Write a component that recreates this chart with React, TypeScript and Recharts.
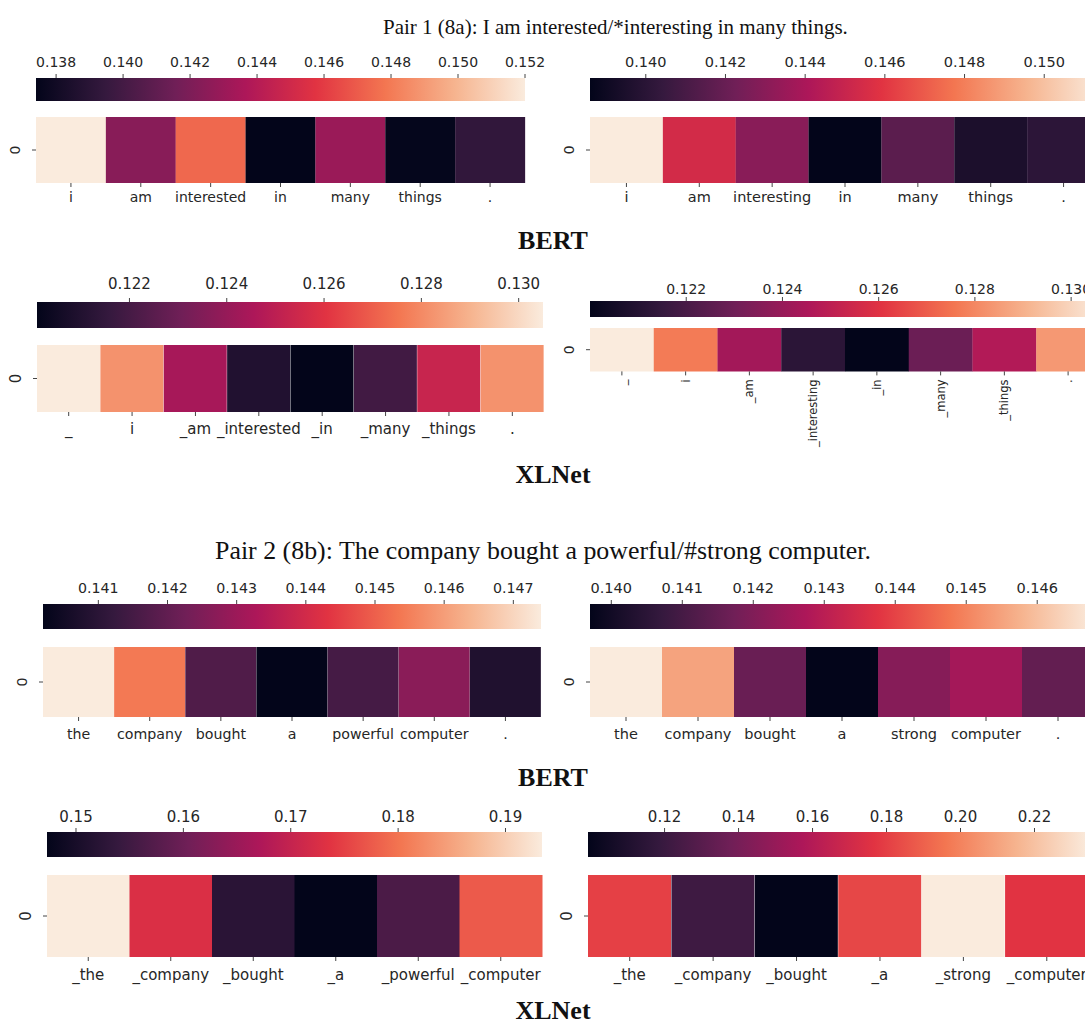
import React from "react"
import { BarChart, Bar, XAxis, YAxis, Cell } from "recharts"

// Pair 1 (8a) - BERT
const bert1aTokens = ["i", "am", "interested", "in", "many", "things", "."]
const bert1aValues = [0.152, 0.1424, 0.1474, 0.1374, 0.143, 0.1375, 0.1393]
const bert1aTicks = [0.138, 0.14, 0.142, 0.144, 0.146, 0.148, 0.15, 0.152]

const bert1bTokens = ["i", "am", "interesting", "in", "many", "things", "."]
const bert1bValues = [0.1514, 0.1454, 0.143, 0.1386, 0.1416, 0.1395, 0.1401]
const bert1bTicks = [0.14, 0.142, 0.144, 0.146, 0.148, 0.15]

// Pair 1 (8a) - XLNet
const xlnet1aTokens = ["_", "i", "_am", "_interested", "_in", "_many", "_things", "."]
const xlnet1aValues = [0.1305, 0.1282, 0.1244, 0.121, 0.1201, 0.1219, 0.1253, 0.1282]
const xlnet1aTicks = [0.122, 0.124, 0.126, 0.128, 0.13]

const xlnet1bTokens = ["_", "i", "_am", "_interesting", "_in", "_many", "_things", "."]
const xlnet1bValues = [0.1306, 0.1277, 0.1243, 0.1212, 0.12, 0.1229, 0.1247, 0.1284]
const xlnet1bTicks = [0.122, 0.124, 0.126, 0.128, 0.13]

// Pair 2 (8b) - BERT
const bert2aTokens = ["the", "company", "bought", "a", "powerful", "computer", "."]
const bert2aValues = [0.1474, 0.1454, 0.1417, 0.1402, 0.1415, 0.1427, 0.1408]
const bert2aTicks = [0.141, 0.142, 0.143, 0.144, 0.145, 0.146, 0.147]

const bert2bTokens = ["the", "company", "bought", "a", "strong", "computer", "."]
const bert2bValues = [0.1468, 0.1455, 0.1416, 0.1397, 0.1421, 0.1426, 0.1415]
const bert2bTicks = [0.14, 0.141, 0.142, 0.143, 0.144, 0.145, 0.146]

// Pair 2 (8b) - XLNet
const xlnet2aTokens = ["_the", "_company", "_bought", "_a", "_powerful", "_computer"]
const xlnet2aValues = [0.1934, 0.1728, 0.1524, 0.1473, 0.1563, 0.1775]
const xlnet2aTicks = [0.15, 0.16, 0.17, 0.18, 0.19]

const xlnet2bTokens = ["_the", "_company", "_bought", "_a", "_strong", "_computer"]
const xlnet2bValues = [0.1805, 0.1216, 0.0993, 0.1825, 0.2346, 0.1766]
const xlnet2bTicks = [0.12, 0.14, 0.16, 0.18, 0.2, 0.22]

// seaborn "rocket", sampled at k/7
const ROCKET = ["#03051a", "#35193e", "#701f57", "#ad1759", "#e13342", "#f37651", "#f6b48f", "#faebdd"]

function hexRgb(h: string) {
  return [1, 3, 5].map((i) => parseInt(h.slice(i, i + 2), 16))
}

function rocket(t: number) {
  const c = Math.max(0, Math.min(1, t)) * (ROCKET.length - 1)
  const i = Math.min(Math.floor(c), ROCKET.length - 2)
  const f = c - i
  const a = hexRgb(ROCKET[i])
  const b = hexRgb(ROCKET[i + 1])
  const m = a.map((v, k) => Math.round(v + (b[k] - v) * f))
  return `rgb(${m[0]},${m[1]},${m[2]})`
}

const FONT = "'DejaVu Sans', sans-serif"
const INK = "#262626"
const PAD = 30 // room for edge tick labels

const panels = [
  { id: "p1", tokens: bert1aTokens, values: bert1aValues, ticks: bert1aTicks, dec: 3,
    cb: { x: 36, y: 78, w: 489, h: 23 }, hm: { x: 36, y: 117, w: 489, h: 66 }, font: 14, cbGap: 7, xGap: 5 },
  { id: "p2", tokens: bert1bTokens, values: bert1bValues, ticks: bert1bTicks, dec: 3,
    cb: { x: 590, y: 78, w: 510, h: 23 }, hm: { x: 590, y: 117, w: 510, h: 66 }, font: 14.5, cbGap: 7, xGap: 5 },
  { id: "p3", tokens: xlnet1aTokens, values: xlnet1aValues, ticks: xlnet1aTicks, dec: 3,
    cb: { x: 36.5, y: 302, w: 506, h: 26 }, hm: { x: 36.5, y: 345, w: 507, h: 67 }, font: 15, cbGap: 9, xGap: 7 },
  { id: "p4", tokens: xlnet1bTokens, values: xlnet1bValues, ticks: xlnet1bTicks, dec: 3,
    cb: { x: 590, y: 300.5, w: 510, h: 16.5 }, hm: { x: 590, y: 328.3, w: 510, h: 43.4 }, font: 14, cbGap: 3.5, xGap: 4, rotate: true, xFont: 11.5 },
  { id: "p5", tokens: bert2aTokens, values: bert2aValues, ticks: bert2aTicks, dec: 3,
    cb: { x: 43.4, y: 604, w: 498, h: 25 }, hm: { x: 43.4, y: 647, w: 498, h: 70 }, font: 14.2, cbGap: 7, xGap: 8 },
  { id: "p6", tokens: bert2bTokens, values: bert2bValues, ticks: bert2bTicks, dec: 3,
    cb: { x: 589.5, y: 604, w: 504, h: 25 }, hm: { x: 589.5, y: 647, w: 504, h: 70 }, font: 14.5, cbGap: 7, xGap: 8 },
  { id: "p7", tokens: xlnet2aTokens, values: xlnet2aValues, ticks: xlnet2aTicks, dec: 2,
    cb: { x: 47.3, y: 832, w: 495, h: 25 }, hm: { x: 47.3, y: 875, w: 495, h: 82 }, font: 15, cbGap: 6.5, xGap: 8 },
  { id: "p8", tokens: xlnet2bTokens, values: xlnet2bValues, ticks: xlnet2bTicks, dec: 2,
    cb: { x: 588.4, y: 832, w: 500.5, h: 25 }, hm: { x: 588.4, y: 875, w: 500.5, h: 82 }, font: 15, cbGap: 6.5, xGap: 8 },
]

function TopTick(props: any) {
  const { x, y, payload, dec, font } = props
  return (
    <text x={x} y={y} textAnchor="middle" fontFamily={FONT} fontSize={font} fill={INK}>
      {Number(payload.value).toFixed(dec)}
    </text>
  )
}

function BottomTick(props: any) {
  const { x, y, payload, font, rotate } = props
  if (rotate) {
    return (
      <text transform={`translate(${x},${y}) rotate(-90)`} textAnchor="end" dominantBaseline="central"
        fontFamily={FONT} fontSize={font} fill={INK}>
        {payload.value}
      </text>
    )
  }
  return (
    <text x={x} y={y} dy="0.71em" textAnchor="middle" fontFamily={FONT} fontSize={font} fill={INK}>
      {payload.value}
    </text>
  )
}

function RowTick(props: any) {
  const { x, y, font } = props
  return (
    <text transform={`translate(${x - 15},${y}) rotate(-90)`} textAnchor="middle" dominantBaseline="central"
      fontFamily={FONT} fontSize={font} fill={INK}>
      0
    </text>
  )
}

function ColorBar({ p }: { p: any }) {
  const lo = Math.min(...p.values)
  const hi = Math.max(...p.values)
  const data = [{ name: "cb", span: [lo, hi] }]
  const axisH = 30
  return (
    <div style={{ position: "absolute", left: p.cb.x - PAD, top: p.cb.y - axisH }}>
      <BarChart width={p.cb.w + 2 * PAD} height={p.cb.h + axisH} data={data} layout="vertical"
        margin={{ top: 0, right: PAD, bottom: 0, left: PAD }} barCategoryGap={0}>
        <defs>
          <linearGradient id={`grad-${p.id}`} x1="0" y1="0" x2="1" y2="0">
            {ROCKET.map((c, i) => (
              <stop key={i} offset={i / (ROCKET.length - 1)} stopColor={c} />
            ))}
          </linearGradient>
        </defs>
        <XAxis type="number" orientation="top" domain={[lo, hi]} ticks={p.ticks} height={axisH}
          axisLine={false} tickSize={4} tickMargin={p.cbGap} tickLine={{ stroke: "#444" }}
          tick={<TopTick dec={p.dec} font={p.font} />} />
        <YAxis type="category" dataKey="name" hide />
        <Bar dataKey="span" fill={`url(#grad-${p.id})`} isAnimationActive={false} />
      </BarChart>
    </div>
  )
}

function HeatRow({ p }: { p: any }) {
  const lo = Math.min(...p.values)
  const hi = Math.max(...p.values)
  const data = p.tokens.map((t: string, i: number) => ({ token: t, value: p.values[i] }))
  const yW = 40
  const xH = p.rotate ? 90 : 40
  return (
    <div style={{ position: "absolute", left: p.hm.x - yW, top: p.hm.y }}>
      <BarChart width={p.hm.w + yW + PAD} height={p.hm.h + xH} data={data}
        margin={{ top: 0, right: PAD, bottom: 0, left: 0 }} barCategoryGap={0}>
        <XAxis dataKey="token" interval={0} height={xH} axisLine={false} tickSize={4}
          tickMargin={p.xGap} tickLine={{ stroke: "#444" }}
          tick={<BottomTick font={p.xFont ?? p.font} rotate={p.rotate} />} />
        <YAxis type="number" domain={[0, 1]} ticks={[0.5]} width={yW} axisLine={false}
          tickSize={4} tickLine={{ stroke: "#444" }} tick={<RowTick font={p.font} />} />
        <Bar dataKey={() => 1} isAnimationActive={false}>
          {data.map((d: any, i: number) => (
            <Cell key={i} fill={rocket((d.value - lo) / (hi - lo))} />
          ))}
        </Bar>
      </BarChart>
    </div>
  )
}

const SERIF = "'Times New Roman', 'Liberation Serif', serif"

export default function App() {
  return (
    <div style={{ position: "relative", width: 1085, height: 1025, overflow: "hidden", background: "#fff" }}>
      <style>{`body{margin:0;overflow:hidden}`}</style>
      <svg width={1085} height={1025} style={{ position: "absolute", left: 0, top: 0 }}>
        <text x={383} y={27} dominantBaseline="central" fontFamily={SERIF} fontSize={21} fill="#111">
          Pair 1 (8a): I am interested/*interesting in many things.
        </text>
        <text x={553} y={240} textAnchor="middle" dominantBaseline="central" fontFamily={SERIF}
          fontWeight="bold" fontSize={26} fill="#111">BERT</text>
        <text x={553} y={474} textAnchor="middle" dominantBaseline="central" fontFamily={SERIF}
          fontWeight="bold" fontSize={26} fill="#111">XLNet</text>
        <text x={215} y={550} dominantBaseline="central" fontFamily={SERIF} fontSize={25.9} fill="#111">
          Pair 2 (8b): The company bought a powerful/#strong computer.
        </text>
        <text x={553} y={777} textAnchor="middle" dominantBaseline="central" fontFamily={SERIF}
          fontWeight="bold" fontSize={26} fill="#111">BERT</text>
        <text x={553} y={1010} textAnchor="middle" dominantBaseline="central" fontFamily={SERIF}
          fontWeight="bold" fontSize={26} fill="#111">XLNet</text>
      </svg>
      {panels.map((p) => (
        <React.Fragment key={p.id}>
          <ColorBar p={p} />
          <HeatRow p={p} />
        </React.Fragment>
      ))}
    </div>
  )
}
